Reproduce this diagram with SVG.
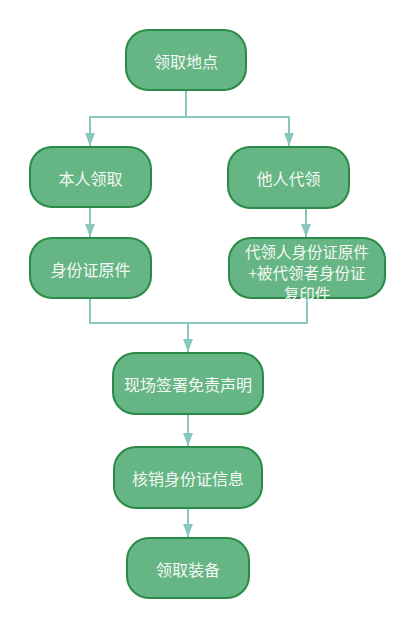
<svg xmlns="http://www.w3.org/2000/svg" width="416" height="629" viewBox="0 0 416 629">
<style>
.n{fill:#66b584;stroke:#2b8a47;stroke-width:2}
.t{fill:#f4f8f4;font-family:"Noto Sans CJK SC","Noto Sans",sans-serif;font-size:16px;text-anchor:middle;dominant-baseline:central}
.t2{font-size:15.5px}
.c{fill:none;stroke:#88c7bd;stroke-width:2}
</style>
<defs>
<marker id="ah" markerUnits="userSpaceOnUse" markerWidth="14" markerHeight="12" refX="13" refY="6" orient="auto" viewBox="0 0 14 12">
<path d="M0,1 L13,6 L0,11 Z" fill="#88c7bd"/>
</marker>
</defs>
<rect width="416" height="629" fill="#ffffff"/>
<g id="connectors">
<path class="c" d="M186 90 V117 H90 V146" marker-end="url(#ah)"/>
<path class="c" d="M186 117 H289 V146" marker-end="url(#ah)"/>
<path class="c" d="M90 207 V237" marker-end="url(#ah)"/>
<path class="c" d="M306 208 V237" marker-end="url(#ah)"/>
<path class="c" d="M90 298 V323 H188 V352" marker-end="url(#ah)"/>
<path class="c" d="M307 298 V323 H188"/>
<path class="c" d="M188 414 V446" marker-end="url(#ah)"/>
<path class="c" d="M188 508 V537" marker-end="url(#ah)"/>
</g>
<g id="n1"><rect class="n" x="126" y="30" width="120" height="60" rx="22"/><text class="t" x="186" y="61">领取地点</text></g>
<g id="n2"><rect class="n" x="30" y="147" width="121" height="60" rx="22"/><text class="t" x="90.5" y="178">本人领取</text></g>
<g id="n3"><rect class="n" x="228" y="147" width="121" height="61" rx="22"/><text class="t" x="288.5" y="178">他人代领</text></g>
<g id="n4"><rect class="n" x="30" y="238" width="121" height="60" rx="22"/><text class="t" x="90.5" y="269">身份证原件</text></g>
<g id="n5"><rect class="n" x="229" y="238" width="156" height="60" rx="22"/><text class="t t2" x="307" y="251">代领人身份证原件</text><text class="t t2" x="307" y="272">+被代领者身份证</text><text class="t t2" x="307" y="293">复印件</text></g>
<g id="n6"><rect class="n" x="113" y="353" width="150" height="61" rx="22"/><text class="t" x="188" y="384">现场签署免责声明</text></g>
<g id="n7"><rect class="n" x="114" y="447" width="148" height="61" rx="22"/><text class="t" x="188" y="478">核销身份证信息</text></g>
<g id="n8"><rect class="n" x="127" y="538" width="122" height="60" rx="22"/><text class="t" x="188" y="569">领取装备</text></g>
</svg>
